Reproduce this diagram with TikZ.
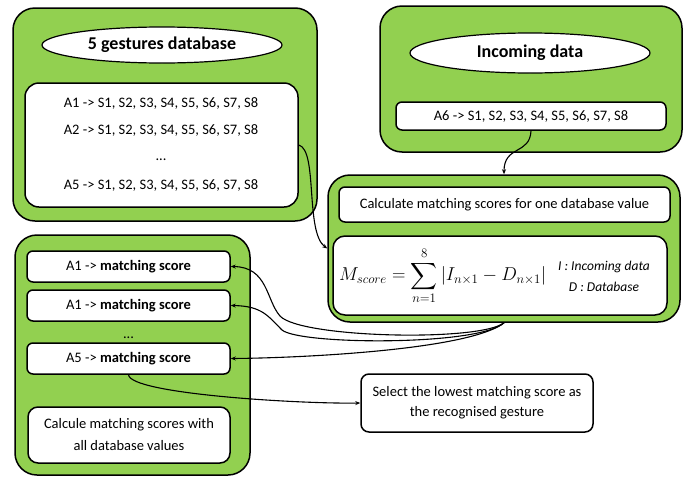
\documentclass[tikz,border=0pt]{standalone}
\usepackage{amsmath}
\usepackage{graphicx}
\usepackage{fontspec}
\setmainfont{Carlito}
\usetikzlibrary{arrows.meta,shapes.geometric}
\definecolor{boxgreen}{HTML}{92D050}
\tikzset{
  greenbox/.style={draw=black,line width=1.5pt,fill=boxgreen,rounded corners=22pt,inner sep=0pt},
  whitebox/.style={draw=black,line width=1.5pt,fill=white,rounded corners=6pt,inner sep=0pt,align=center,font=\fontsize{14.5}{20}\selectfont},
  titleell/.style={draw=black,line width=1.2pt,fill=white,ellipse,inner sep=0pt,font=\fontsize{18}{20}\selectfont\bfseries},
  conn/.style={line width=1.1pt,-{Stealth[length=5pt,width=4pt]}},
  dbline/.style={font=\fontsize{14.5}{16}\selectfont},
}
\begin{document}
\begin{tikzpicture}[x=1pt,y=-1pt]
\useasboundingbox (0,0) rectangle (688,477);
% green containers
\node[greenbox,minimum width=304pt,minimum height=213pt] (g1) at (165,114.5) {};
\node[greenbox,minimum width=302pt,minimum height=146pt] (g2) at (531,79) {};
\node[greenbox,minimum width=352pt,minimum height=147pt] (g3) at (504,248.5) {};
\node[greenbox,minimum width=235pt,minimum height=240pt] (g4) at (132.5,355) {};
% top-left
\node[titleell,minimum width=240pt,minimum height=36pt] (e1) at (162,45) {5 gestures database};
\node[whitebox,rounded corners=14pt,minimum width=273pt,minimum height=124pt] (db) at (161.5,145) {};
\node[dbline] (l1) at (161,103) {A1 -> S1, S2, S3, S4, S5, S6, S7, S8};
\node[dbline] (l2) at (161,130) {A2 -> S1, S2, S3, S4, S5, S6, S7, S8};
\node[dbline] (l3) at (161,160) {...};
\node[dbline] (l4) at (161,185) {A5 -> S1, S2, S3, S4, S5, S6, S7, S8};
% top-right
\node[titleell,minimum width=240pt,minimum height=40pt] (e2) at (530,53) {Incoming data};
\node[whitebox,minimum width=270pt,minimum height=28pt] (inc) at (531,116) {A6 -> S1, S2, S3, S4, S5, S6, S7, S8};
% middle right
\node[whitebox,minimum width=331pt,minimum height=35pt] (calc) at (504.5,204.5) {Calculate matching scores for one database value};
\node[whitebox,rounded corners=12pt,minimum width=334pt,minimum height=79pt] (form) at (500,275.5) {};
\node[anchor=west,inner sep=0pt,font=\fontsize{17.28}{20}\selectfont] (eq) at (339,276) {\scalebox{1.08}{$M_{score}=\displaystyle\sum_{n=1}^{8}\left|I_{n\times 1}-D_{n\times 1}\right|$}};
\node[font=\fontsize{13.5}{21}\selectfont\itshape,align=center] (leg) at (604,276) {I : Incoming data\\D : Database};
% bottom-left
\node[whitebox,minimum width=203pt,minimum height=31pt] (a1) at (128.5,266.5) {A1 -> \textbf{matching score}};
\node[whitebox,minimum width=203pt,minimum height=31pt] (a2) at (128.5,305.5) {A1 -> \textbf{matching score}};
\node[font=\fontsize{14.5}{16}\selectfont] (dots) at (128.5,338) {...};
\node[whitebox,minimum width=203pt,minimum height=31pt] (a5) at (128.5,358.5) {A5 -> \textbf{matching score}};
\node[whitebox,rounded corners=10pt,minimum width=202pt,minimum height=56pt,font=\fontsize{14.5}{22}\selectfont] (all) at (129,435) {Calcule matching scores with\\all database values};
% select
\node[whitebox,rounded corners=8pt,minimum width=232pt,minimum height=58pt] (sel) at (477,403) {Select the lowest matching score as\\the recognised gesture};
% connectors
\draw[conn] (inc.south) .. controls (530,155) and (504,145) .. (g3.north);
\draw[conn] (db.east) .. controls (318,150) and (305,232) .. (g3.west);
\draw[conn] (g3.south) .. controls (480,342) and (300,338) .. (280,316) .. controls (266,300) and (268,267) .. (a1.east);
\draw[conn] (g3.south) .. controls (480,346) and (300,345) .. (282,330) .. controls (268,316) and (262,306) .. (a2.east);
\draw[conn] (g3.south) .. controls (470,350) and (300,358) .. (a5.east);
\draw[conn] (a5.south) .. controls (130,394) and (300,404) .. (sel.west);
\end{tikzpicture}
\end{document}
